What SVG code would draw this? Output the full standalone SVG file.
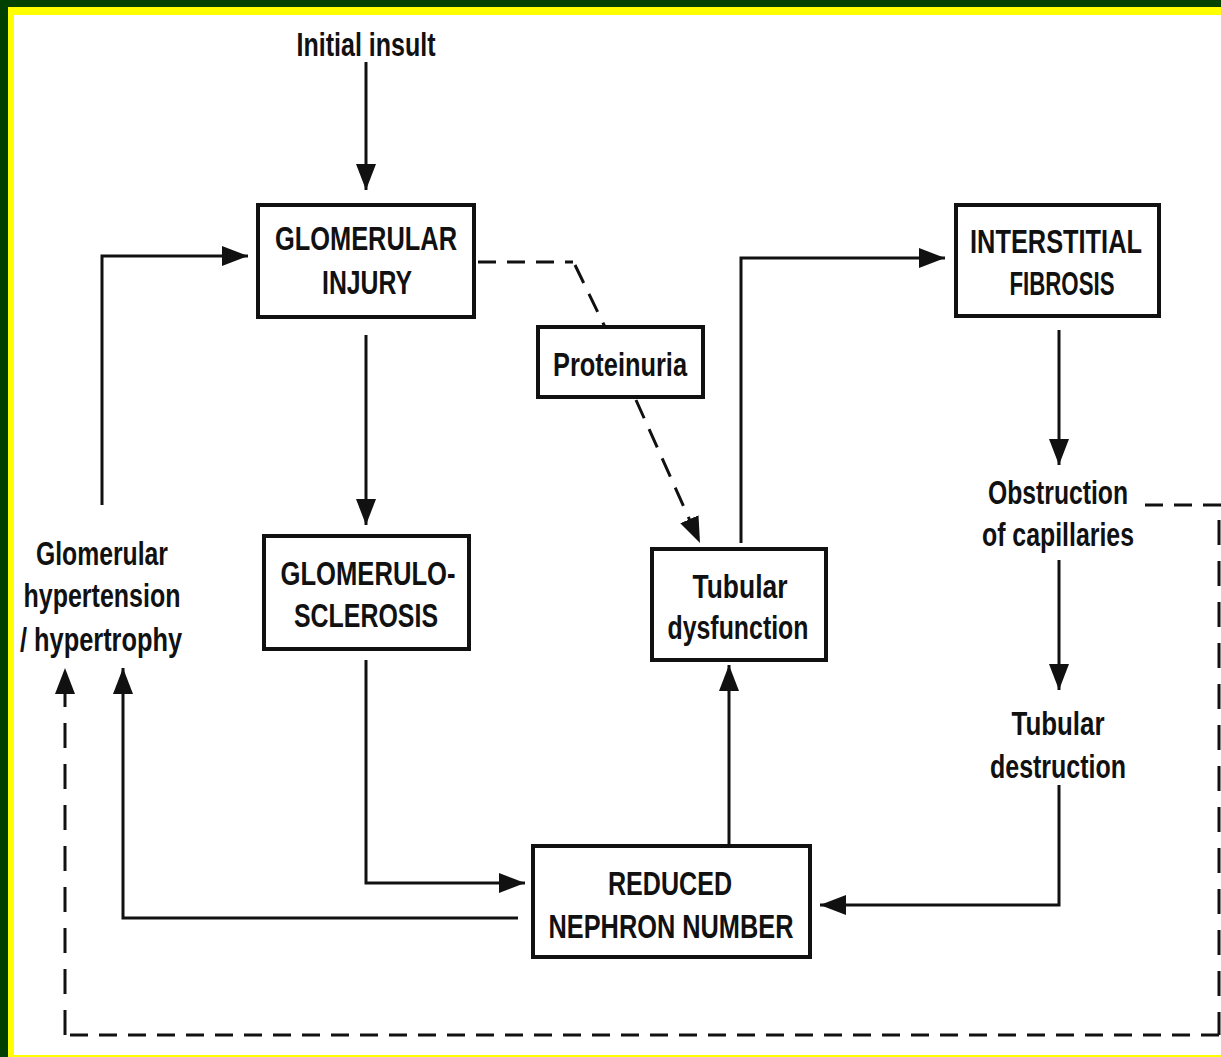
<svg xmlns="http://www.w3.org/2000/svg" width="1221" height="1057" viewBox="0 0 1221 1057">
<style>
.box{fill:#fff;stroke:#111;stroke-width:4}
.t{font-family:"Liberation Sans Narrow","Liberation Sans",Arial,sans-serif;font-weight:bold;font-size:34px;fill:#111;text-anchor:middle}
.ln{fill:none;stroke:#111;stroke-width:3}
.dh{fill:none;stroke:#111;stroke-width:3;stroke-dasharray:18 11}
.dv{fill:none;stroke:#111;stroke-width:3;stroke-dasharray:25 16}
.dd{fill:none;stroke:#111;stroke-width:3;stroke-dasharray:20 12}
</style>
<defs>
<marker id="ah" markerUnits="userSpaceOnUse" markerWidth="28" markerHeight="22" refX="26" refY="10" orient="auto" viewBox="0 0 28 20">
<path d="M0,0 L26,10 L0,20 Z" fill="#111"/>
</marker>
</defs>
<rect x="0" y="0" width="1221" height="1057" fill="#004000"/>
<rect x="8" y="7" width="1213" height="1050" fill="#ffff00"/>
<rect x="14" y="15" width="1207" height="1040" fill="#fff"/>

<g id="connectors">
<line class="ln" x1="366" y1="62" x2="366" y2="190" marker-end="url(#ah)"/>
<polyline class="ln" points="102,505 102,256 248,256" marker-end="url(#ah)"/>
<line class="ln" x1="366" y1="335" x2="366" y2="525" marker-end="url(#ah)"/>
<polyline class="ln" points="366,660 366,883 525,883" marker-end="url(#ah)"/>
<polyline class="ln" points="518,918 123,918 123,668" marker-end="url(#ah)"/>
<line class="ln" x1="729" y1="845" x2="729" y2="665" marker-end="url(#ah)"/>
<polyline class="ln" points="741,543 741,258 945,258" marker-end="url(#ah)"/>
<line class="ln" x1="1059" y1="330" x2="1059" y2="465" marker-end="url(#ah)"/>
<line class="ln" x1="1059" y1="560" x2="1059" y2="690" marker-end="url(#ah)"/>
<polyline class="ln" points="1059,785 1059,905 820,905" marker-end="url(#ah)"/>
<polyline class="dh" points="478,262 573,262"/>
<line class="dd" x1="575" y1="265" x2="605" y2="327"/>
<line class="dd" x1="636" y1="400" x2="700" y2="543" marker-end="url(#ah)"/>
<line class="dh" x1="1145" y1="505" x2="1221" y2="505"/>
<line class="dv" x1="1219" y1="520" x2="1219" y2="1035"/>
<line class="dh" x1="1219" y1="1035" x2="65" y2="1035"/>
<line class="dv" x1="65" y1="1035" x2="65" y2="668" marker-end="url(#ah)"/>
</g>

<g id="initial-insult">
<text class="t" x="366" y="56" textLength="139" lengthAdjust="spacingAndGlyphs">Initial insult</text>
</g>
<g id="glomerular-injury">
<rect class="box" x="258" y="205" width="216" height="112"/>
<text class="t" x="366" y="250" textLength="182" lengthAdjust="spacingAndGlyphs">GLOMERULAR</text>
<text class="t" x="367" y="294" textLength="90" lengthAdjust="spacingAndGlyphs">INJURY</text>
</g>
<g id="proteinuria">
<rect class="box" x="538" y="327" width="165" height="70"/>
<text class="t" x="620" y="376" textLength="134" lengthAdjust="spacingAndGlyphs">Proteinuria</text>
</g>
<g id="glomerulosclerosis">
<rect class="box" x="264" y="536" width="205" height="113"/>
<text class="t" x="368" y="585" textLength="175" lengthAdjust="spacingAndGlyphs">GLOMERULO-</text>
<text class="t" x="366" y="627" textLength="144" lengthAdjust="spacingAndGlyphs">SCLEROSIS</text>
</g>
<g id="tubular-dysfunction">
<rect class="box" x="652" y="549" width="174" height="111"/>
<text class="t" x="740" y="598" textLength="95" lengthAdjust="spacingAndGlyphs">Tubular</text>
<text class="t" x="738" y="639" textLength="141" lengthAdjust="spacingAndGlyphs">dysfunction</text>
</g>
<g id="reduced-nephron-number">
<rect class="box" x="533" y="846" width="277" height="111"/>
<text class="t" x="670" y="895" textLength="124" lengthAdjust="spacingAndGlyphs">REDUCED</text>
<text class="t" x="671" y="938" textLength="245" lengthAdjust="spacingAndGlyphs">NEPHRON NUMBER</text>
</g>
<g id="interstitial-fibrosis">
<rect class="box" x="956" y="205" width="203" height="111"/>
<text class="t" x="1056" y="253" textLength="172" lengthAdjust="spacingAndGlyphs">INTERSTITIAL</text>
<text class="t" x="1062" y="295" textLength="105" lengthAdjust="spacingAndGlyphs">FIBROSIS</text>
</g>
<g id="obstruction">
<text class="t" x="1058" y="504" textLength="140" lengthAdjust="spacingAndGlyphs">Obstruction</text>
<text class="t" x="1058" y="546" textLength="152" lengthAdjust="spacingAndGlyphs">of capillaries</text>
</g>
<g id="tubular-destruction">
<text class="t" x="1058" y="735" textLength="93" lengthAdjust="spacingAndGlyphs">Tubular</text>
<text class="t" x="1058" y="778" textLength="136" lengthAdjust="spacingAndGlyphs">destruction</text>
</g>
<g id="glomerular-hypertension">
<text class="t" x="102" y="565" textLength="132" lengthAdjust="spacingAndGlyphs">Glomerular</text>
<text class="t" x="102" y="607" textLength="157" lengthAdjust="spacingAndGlyphs">hypertension</text>
<text class="t" x="101" y="651" textLength="162" lengthAdjust="spacingAndGlyphs">/ hypertrophy</text>
</g>
</svg>
